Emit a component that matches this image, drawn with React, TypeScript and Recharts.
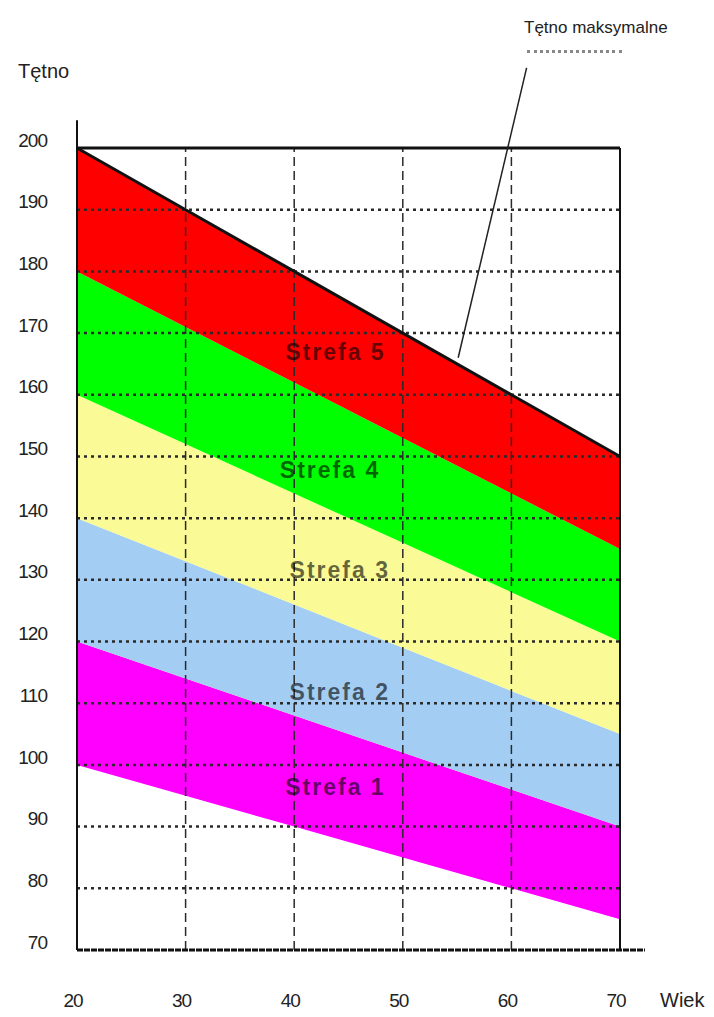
import React from "react";
import {
  ComposedChart,
  Area,
  Line,
  XAxis,
  YAxis,
  ReferenceLine,
  ReferenceDot,
} from "recharts";

// wiek (lata) i granice stref tętna
const ages = [20, 30, 40, 50, 60, 70];
const zone1Low = [100, 95, 90, 85, 80, 75];
const zone1High = [120, 114, 108, 102, 96, 90];
const zone2High = [140, 133, 126, 119, 112, 105];
const zone3High = [160, 152, 144, 136, 128, 120];
const zone4High = [180, 171, 162, 153, 144, 135];
const maxHr = [200, 190, 180, 170, 160, 150];

const yTicks = [70, 80, 90, 100, 110, 120, 130, 140, 150, 160, 170, 180, 190, 200];
const hGrid = [80, 90, 100, 110, 120, 130, 140, 150, 160, 170, 180, 190];
const vGrid = [30, 40, 50, 60];

const zoneNames = ["Strefa 1", "Strefa 2", "Strefa 3", "Strefa 4", "Strefa 5"];
const zoneColors = ["#ff00ff", "#a3cdf3", "#fafa96", "#00ff00", "#ff0000"];
const labelAge = [43.8, 44.2, 44.2, 43.3, 43.8];
const labelHr = [96.4, 111.8, 131.6, 147.8, 166.9];

const data = ages.map((age, i) => ({
  age,
  z1: [zone1Low[i], zone1High[i]],
  z2: [zone1High[i], zone2High[i]],
  z3: [zone2High[i], zone3High[i]],
  z4: [zone3High[i], zone4High[i]],
  z5: [zone4High[i], maxHr[i]],
  max: maxHr[i],
}));

const font = "'Liberation Sans Narrow', 'Liberation Sans', Arial, sans-serif";

const YTick = (props: any) => (
  <text x={47} y={props.y - 8} dy="0.35em" textAnchor="end" fontFamily={font} fontSize={19} letterSpacing={-1} fill="#222">
    {props.payload.value}
  </text>
);

const XTick = (props: any) => (
  <text x={props.x - 4} y={1000} dy="0.35em" textAnchor="middle" fontFamily={font} fontSize={19} letterSpacing={-1} fill="#222">
    {props.payload.value}
  </text>
);

const zoneLabel = (text: string) => (p: any) => {
  const vb = p.viewBox || {};
  const cx = vb.x + (vb.width || 0) / 2;
  const cy = vb.y + (vb.height || 0) / 2;
  return (
    <text
      x={cx}
      y={cy}
      dy="0.35em"
      textAnchor="middle"
      fontFamily="'Liberation Sans', Arial, sans-serif"
      fontWeight="bold"
      fontSize={23}
      letterSpacing={2}
      fill="#000"
      fillOpacity={0.6}
    >
      {text}
    </text>
  );
};

export default function App() {
  return (
    <div style={{ position: "absolute", left: 0, top: 0, width: 714, height: 1017, background: "#fff" }}>
      <ComposedChart
        width={714}
        height={1017}
        data={data}
        margin={{ top: 148, right: 94, left: 17, bottom: 37 }}
      >
        <XAxis
          type="number"
          dataKey="age"
          domain={[20, 70]}
          ticks={ages}
          axisLine={false}
          tickLine={false}
          height={30}
          tick={<XTick />}
        />
        <YAxis
          type="number"
          domain={[70, 200]}
          ticks={yTicks}
          axisLine={false}
          tickLine={false}
          width={60}
          tick={<YTick />}
        />
        {["z1", "z2", "z3", "z4", "z5"].map((k, i) => (
          <Area
            key={k}
            type="linear"
            dataKey={k}
            stroke="none"
            fill={zoneColors[i]}
            fillOpacity={1}
            isAnimationActive={false}
            dot={false}
            activeDot={false}
          />
        ))}
        {hGrid.map((v) => (
          <ReferenceLine key={"h" + v} y={v} stroke="#2a2a2a" strokeWidth={2.5} strokeDasharray="3 4" />
        ))}
        {vGrid.map((v) => (
          <ReferenceLine key={"v" + v} x={v} stroke="#2a2a2a" strokeWidth={1.5} strokeDasharray="9 5" />
        ))}
        <ReferenceLine y={200} stroke="#111" strokeWidth={3} />
        <ReferenceLine x={70} stroke="#111" strokeWidth={2} />
        <ReferenceLine
          segment={[{ x: 20, y: 70 }, { x: 72.3, y: 70 }]}
          ifOverflow="visible"
          stroke="#111"
          strokeWidth={3}
          strokeDasharray="6 1"
        />
        <ReferenceLine
          segment={[{ x: 20, y: 70 }, { x: 20, y: 204.5 }]}
          ifOverflow="visible"
          stroke="#111"
          strokeWidth={2}
        />
        <ReferenceLine
          segment={[{ x: 55.1, y: 166 }, { x: 61.4, y: 213 }]}
          ifOverflow="visible"
          stroke="#222"
          strokeWidth={1.5}
        />
        <Line
          type="linear"
          dataKey="max"
          stroke="#111"
          strokeWidth={3}
          dot={false}
          activeDot={false}
          isAnimationActive={false}
        />
        {zoneNames.map((name, i) => (
          <ReferenceDot
            key={name}
            x={labelAge[i]}
            y={labelHr[i]}
            r={1}
            fill="none"
            stroke="none"
            label={zoneLabel(name)}
          />
        ))}
      </ComposedChart>
      <div style={{ position: "absolute", left: 18, top: 60, fontFamily: font, fontSize: 20, color: "#222" }}>
        Tętno
      </div>
      <div style={{ position: "absolute", left: 660, top: 989, fontFamily: font, fontSize: 20, color: "#222" }}>
        Wiek
      </div>
      <div style={{ position: "absolute", left: 524, top: 18, fontFamily: font, fontSize: 17, color: "#222", whiteSpace: "nowrap" }}>
        Tętno maksymalne
      </div>
      <div style={{ position: "absolute", left: 527, top: 50, width: 95, borderBottom: "3px dotted #888" }} />
    </div>
  );
}
